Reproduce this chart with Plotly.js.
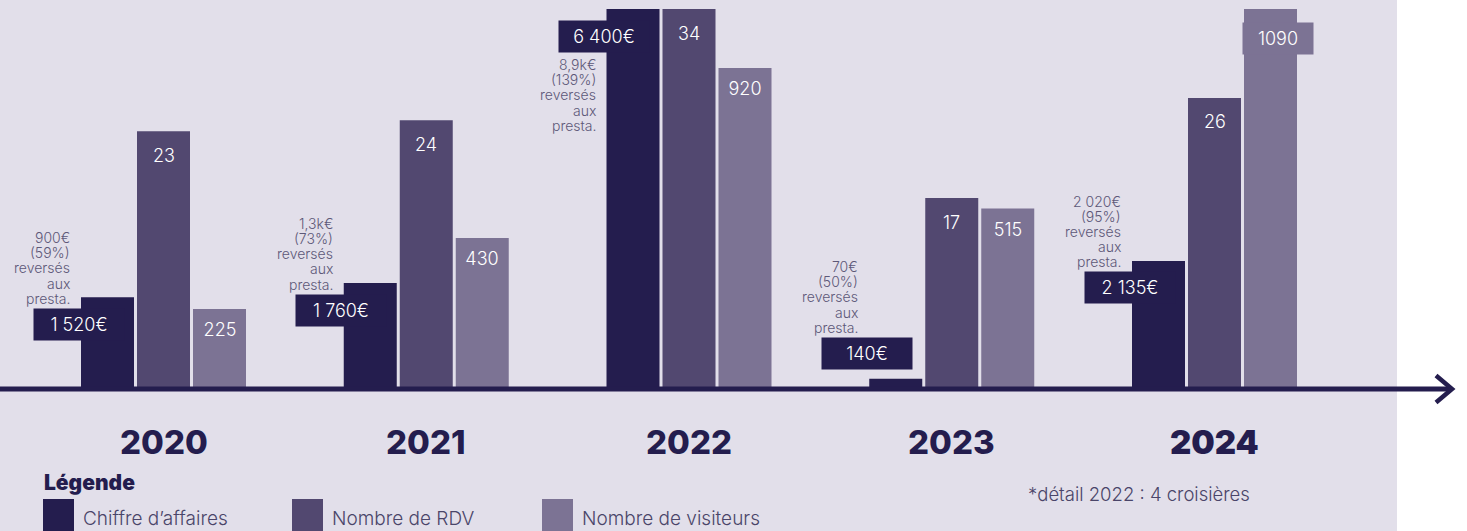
<!DOCTYPE html>
<html><head><meta charset="utf-8">
<script src="https://cdn.plot.ly/plotly-3.0.1.min.js"></script>
<style>html,body{margin:0;padding:0;background:#fff;overflow:hidden}#chart{width:1467px;height:531px}</style>
</head><body><div id="chart"></div>
<script>
// ---- data ----
const years = [2020, 2021, 2022, 2023, 2024];
const seriesNames = ["Chiffre d’affaires", "Nombre de RDV", "Nombre de visiteurs"];
const chiffreAffaires = [1520, 1760, 6400, 140, 2135];
const chiffreLabels = ["1 520€", "1 760€", "6 400€", "140€", "2 135€"];
const nombreRdv = [23, 24, 34, 17, 26];
const nombreVisiteurs = [225, 430, 920, 515, 1090];
const reverseNotes = [
  "900€<br>(59%)<br>reversés<br>aux<br>presta.",
  "1,3k€<br>(73%)<br>reversés<br>aux<br>presta.",
  "8,9k€<br>(139%)<br>reversés<br>aux<br>presta.",
  "70€<br>(50%)<br>reversés<br>aux<br>presta.",
  "2 020€<br>(95%)<br>reversés<br>aux<br>presta."
];
const legendTitle = "Légende";
const footnote = "*détail 2022 : 4 croisières";

// ---- geometry / style ----
const W = 1467, H = 531, PLOT_TOP = 9, PLOT_BOTTOM = 387, PH = PLOT_BOTTOM - PLOT_TOP;
const X0PX = 163.5, UNIT = 262.75;
const BAR_W = 53 / UNIT, GAP = 56 / UNIT;
const px = v => v / W;
const py = v => (PLOT_BOTTOM - v) / PH;
const FONT = "Inter, 'Noto Sans', sans-serif";
const NAVY = '#241d4e';
const colors = [NAVY, '#524870', '#7c7394'];
const NOTE_COLOR = '#5d5878';
const TEXT_COLOR = '#4a4569';
const BG = '#e2dfea';
const LIGHT = 300;

const series = [chiffreAffaires, nombreRdv, nombreVisiteurs];
const yaxes = ['y', 'y2', 'y3'];
const maxes = series.map(s => Math.max(...s));

const traces = series.map((vals, s) => ({
  type: 'bar', x: years, y: vals, yaxis: yaxes[s], name: seriesNames[s],
  width: BAR_W, offset: (s - 1) * GAP - BAR_W / 2,
  marker: {color: colors[s], line: {width: 0}},
  showlegend: false, hoverinfo: 'x+y+name'
}));

const annotations = [];
const base = {showarrow: false, xanchor: 'center', yanchor: 'middle'};

years.forEach((yr, i) => {
  // Chiffre d'affaires label box
  const v = chiffreAffaires[i];
  const small = v / maxes[0] < 0.08;
  const labelShift = small ? 25.5 : -27;
  const barLeft = yr - GAP - BAR_W / 2;
  annotations.push(Object.assign({}, base, {
    x: barLeft, xref: 'x', xshift: -2.5, y: v, yref: 'y', yshift: labelShift,
    text: chiffreLabels[i], font: {family: FONT, size: 18, weight: LIGHT, color: '#fff'},
    bgcolor: colors[0], width: 90, height: 31, borderpad: 0
  }));
  // notes, line by line
  const lines = reverseNotes[i].split('<br>');
  const n = lines.length, pitch = 15.2;
  const atTop = v === maxes[0];
  lines.forEach((ln, k) => {
    const shift = atTop
      ? labelShift - 15.5 - 13 - k * pitch
      : labelShift + 15.5 + 10.5 + (n - 1 - k) * pitch;
    annotations.push({
      showarrow: false, xanchor: 'right', yanchor: 'middle',
      x: barLeft, xref: 'x', xshift: -9, y: v, yref: 'y', yshift: shift,
      text: ln, font: {family: FONT, size: 14, weight: LIGHT, color: NOTE_COLOR}
    });
  });
  // RDV labels
  annotations.push(Object.assign({}, base, {
    x: yr, xref: 'x', y: nombreRdv[i], yref: 'y2', yshift: -24,
    text: String(nombreRdv[i]), font: {family: FONT, size: 18, weight: LIGHT, color: '#fff'}
  }));
  // Visiteurs labels
  const vv = nombreVisiteurs[i];
  const isMax = vv === maxes[2];
  annotations.push(Object.assign({}, base, {
    x: yr + GAP, xref: 'x', xshift: isMax ? 7.5 : 0,
    y: vv, yref: 'y3', yshift: isMax ? -29.5 : -21,
    text: String(vv), font: {family: FONT, size: 18, weight: LIGHT, color: '#fff'},
    bgcolor: isMax ? colors[2] : 'rgba(0,0,0,0)', width: isMax ? 70 : 50, height: 31, borderpad: 0
  }));
  // year labels
  annotations.push(Object.assign({}, base, {
    x: yr, xref: 'x', y: py(441.5), yref: 'paper',
    text: String(yr), font: {family: FONT, size: 33, weight: i === years.length - 1 ? 900 : 800, color: NAVY}
  }));
});

// legend
annotations.push({showarrow: false, xanchor: 'left', yanchor: 'middle', xref: 'paper', yref: 'paper',
  x: px(42), y: py(482), text: legendTitle, font: {family: FONT, size: 21, weight: 900, color: NAVY}});
const legX = [43, 292, 542];
const shapes = [
  {type: 'rect', xref: 'paper', yref: 'paper', x0: 0, x1: px(1397), y0: py(560), y1: py(-30),
   fillcolor: BG, line: {width: 0}, layer: 'below'}
];
seriesNames.forEach((nm, s) => {
  shapes.push({type: 'rect', xref: 'paper', yref: 'paper', x0: px(legX[s]), x1: px(legX[s] + 31),
    y0: py(540), y1: py(499), fillcolor: colors[s], line: {width: 0}, layer: 'above'});
  annotations.push({showarrow: false, xanchor: 'left', yanchor: 'middle', xref: 'paper', yref: 'paper',
    x: px(legX[s] + 38), y: py(518), text: nm, font: {family: FONT, size: 19, weight: LIGHT, color: TEXT_COLOR}});
});
annotations.push({showarrow: false, xanchor: 'left', yanchor: 'middle', xref: 'paper', yref: 'paper',
  x: px(1026), y: py(494), text: footnote, font: {family: FONT, size: 18.5, weight: LIGHT, color: TEXT_COLOR}});

// axis line + arrow
shapes.push({type: 'rect', xref: 'paper', yref: 'paper', x0: 0, x1: px(1450), y0: py(391.5), y1: py(386.5),
  fillcolor: NAVY, line: {width: 0}, layer: 'above'});
shapes.push({type: 'path', xref: 'paper', yref: 'paper', layer: 'above',
  path: `M ${px(1436)},${py(375.5)} L ${px(1452)},${py(389)} L ${px(1436)},${py(402.5)}`,
  line: {color: NAVY, width: 4.5}});

const layout = {
  width: W, height: H,
  margin: {l: 0, r: 0, t: PLOT_TOP, b: H - PLOT_BOTTOM, pad: 0},
  paper_bgcolor: '#ffffff', plot_bgcolor: 'rgba(0,0,0,0)',
  barmode: 'overlay', showlegend: false,
  xaxis: {range: [years[0] - X0PX / UNIT, years[0] + (W - X0PX) / UNIT], visible: false, fixedrange: true},
  yaxis: {range: [0, maxes[0]], visible: false, fixedrange: true},
  yaxis2: {range: [0, maxes[1]], overlaying: 'y', visible: false, fixedrange: true},
  yaxis3: {range: [0, maxes[2]], overlaying: 'y', visible: false, fixedrange: true},
  annotations, shapes
};
Plotly.newPlot('chart', traces, layout, {displayModeBar: false, responsive: false});
</script></body></html>
